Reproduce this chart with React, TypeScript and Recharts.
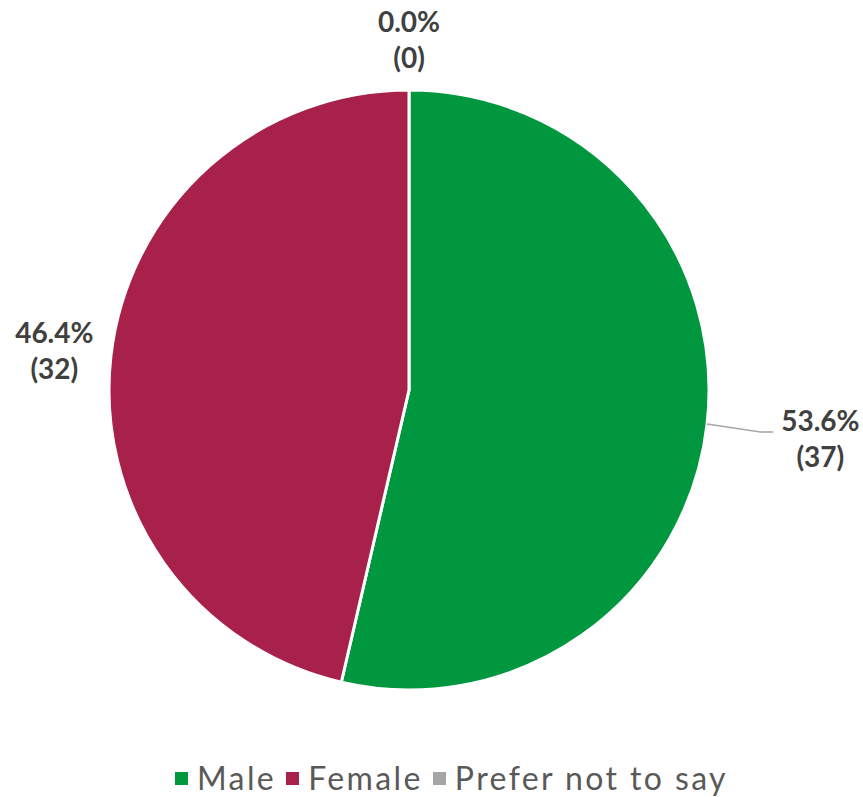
import React from "react";
import { PieChart, Pie, Cell, Legend } from "recharts";

const categories = ["Male", "Female", "Prefer not to say"];
const counts = [37, 32, 0];
const sliceColors = ["#00973F", "#A8214A", "#A5A5A5"];
// how far out each data label sits from the centre
const labelRadius = [414, 357, 352];

const data = categories.map((name, i) => ({ name, value: counts[i] }));
const total = counts.reduce((a, b) => a + b, 0);

const RADIAN = Math.PI / 180;
const FONT = "'Lato', 'DejaVu Sans', sans-serif";

function renderLabel(props: any) {
  const { cx, cy, midAngle, outerRadius, value, index } = props;
  const cos = Math.cos(-midAngle * RADIAN);
  const sin = Math.sin(-midAngle * RADIAN);
  const r = labelRadius[index];
  const x = cx + r * cos;
  const y = cy + r * sin;
  const pct = ((value / total) * 100).toFixed(1) + "%";
  const edgeX = cx + outerRadius * cos;
  const edgeY = cy + outerRadius * sin;
  const showLeader = r - outerRadius > 80;
  return (
    <g key={`lbl-${index}`}>
      {showLeader && (
        <polyline
          points={`${edgeX},${edgeY} ${x - 60},${y - 5} ${x - 47},${y - 5}`}
          fill="none"
          stroke="#A6A6A6"
          strokeWidth={1.5}
        />
      )}
      <text
        x={x}
        y={y - 17}
        textAnchor="middle"
        dominantBaseline="central"
        fill="#404040"
        fontFamily={FONT}
        fontWeight="bold"
        fontSize={28}
      >
        {pct}
      </text>
      <text
        x={x}
        y={y + 19}
        textAnchor="middle"
        dominantBaseline="central"
        fill="#404040"
        fontFamily={FONT}
        fontWeight="bold"
        fontSize={28}
      >
        ({value})
      </text>
    </g>
  );
}

function LegendContent() {
  return (
    <div
      style={{
        display: "flex",
        justifyContent: "center",
        alignItems: "center",
        height: 34,
        lineHeight: 1,
        paddingLeft: 40,
        boxSizing: "border-box",
        fontFamily: FONT,
        fontSize: 32,
        letterSpacing: 2.4,
        color: "#595959",
      }}
    >
      {categories.map((c, i) => (
        <div
          key={c}
          style={{
            display: "flex",
            alignItems: "center",
            marginRight: i < categories.length - 1 ? 10 : 0,
          }}
        >
          <span
            style={{
              display: "inline-block",
              width: 13,
              height: 13,
              background: sliceColors[i],
              marginRight: 9,
            }}
          />
          <span>{c}</span>
        </div>
      ))}
    </div>
  );
}

export default function App() {
  return (
    <div style={{ position: "absolute", left: 0, top: 0, width: 863, height: 797, background: "#fff" }}>
      <PieChart width={863} height={797} margin={{ top: 0, right: 0, bottom: 0, left: 0 }}>
        <Pie
          data={data}
          dataKey="value"
          nameKey="name"
          cx={409}
          cy={390}
          outerRadius={300}
          startAngle={90}
          endAngle={-270}
          stroke="#FFFFFF"
          strokeWidth={3}
          label={renderLabel}
          labelLine={false}
          isAnimationActive={false}
        >
          {data.map((d, i) => (
            <Cell key={d.name} fill={sliceColors[i]} />
          ))}
        </Pie>
        <Legend
          content={<LegendContent />}
          wrapperStyle={{ top: 761, left: 0, width: 863 }}
        />
      </PieChart>
    </div>
  );
}
